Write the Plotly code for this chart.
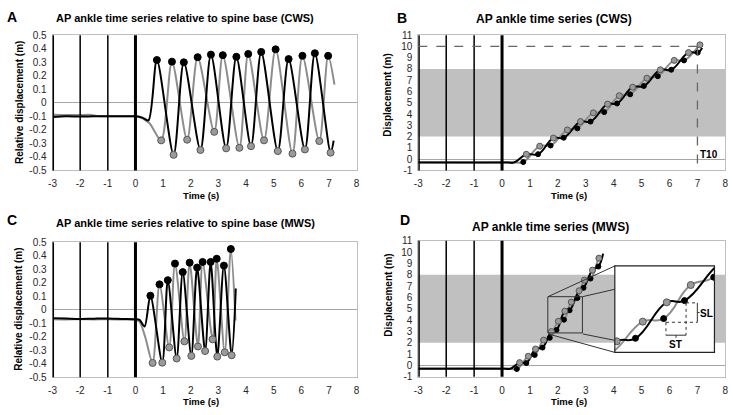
import plotly.graph_objects as go

W, H = 733, 415


def px(x):
    return x / W


def py(y):
    return 1 - y / H


FONT = "Liberation Sans, Arial, sans-serif"
BLACK = "#000000"
GRAY = "#8C8C8C"
DOT_GRAY = "#9A9A9A"
DOT_EDGE = "#555555"
BAND = "#C0C0C0"
FRAME = "#BFBFBF"
ZERO = "#A6A6A6"

# ---------------- tick labels ----------------
x_ticks = [-3, -2, -1, 0, 1, 2, 3, 4, 5, 6, 7, 8]
x_ticktext = ["-3", "-2", "-1", "0", "1", "2", "3", "4", "5", "6", "7", "8"]
rel_ticks = [0.5, 0.4, 0.3, 0.2, 0.1, 0, -0.1, -0.2, -0.3, -0.4, -0.5]
rel_ticktext = ["0.5", "0.4", "0.3", "0.2", "0.1", "0", "-0.1", "-0.2", "-0.3", "-0.4", "-0.5"]
disp_ticks = [11, 10, 9, 8, 7, 6, 5, 4, 3, 2, 1, 0, -1]
disp_ticktext = ["11", "10", "9", "8", "7", "6", "5", "4", "3", "2", "1", "0", "-1"]

event_times = [-3, -2, -1, 0]
band = [2, 8]
t10 = 7.0
t10_level = 10

# ---------------- A: CWS, relative to spine base ----------------
a_black_t = [-3, -2.5, -2, -1.5, -1, -0.5, 0, 0.25, 0.47, 0.775, 1.38, 1.75, 2.35, 2.73, 3.28,
             3.65, 4.18, 4.55, 5.15, 5.54, 6.13, 6.49, 7.06, 7.17]
a_black_y = [-0.105, -0.1, -0.102, -0.1, -0.1, -0.1, -0.1, -0.11, -0.13, 0.316, -0.385, 0.299,
             -0.349, 0.356, -0.337, 0.34, -0.321, 0.376, -0.357, 0.323, -0.345, 0.366, -0.369, -0.28]
a_gray_t = [-3, -2.5, -2, -1.6, -1.3, -1, -0.5, 0, 0.15, 0.5, 0.93, 1.32, 1.87, 2.25, 2.85, 3.16,
            3.76, 4.08, 4.65, 5.07, 5.68, 6.04, 6.65, 6.97, 7.2]
a_gray_y = [-0.088, -0.09, -0.09, -0.09, -0.1, -0.1, -0.1, -0.1, -0.105, -0.15, -0.278, 0.304,
            -0.273, 0.337, -0.215, 0.352, -0.333, 0.361, -0.278, 0.395, -0.376, 0.347, -0.283,
            0.347, 0.134]
a_peak_t = [0.775, 1.32, 1.75, 2.25, 2.73, 3.16, 3.65, 4.08, 4.55, 5.07, 5.54, 6.04, 6.49, 6.97]
a_peak_y = [0.316, 0.304, 0.299, 0.337, 0.356, 0.352, 0.34, 0.361, 0.376, 0.395, 0.323, 0.347,
            0.366, 0.347]
a_trough_t = [0.93, 1.38, 1.87, 2.35, 2.85, 3.28, 3.76, 4.18, 4.65, 5.15, 5.68, 6.13, 6.65, 7.06]
a_trough_y = [-0.278, -0.385, -0.273, -0.349, -0.215, -0.337, -0.333, -0.321, -0.278, -0.357,
              -0.376, -0.345, -0.283, -0.369]

# ---------------- B: CWS, displacement ----------------
b_black_line_t = [-3, 0.2, 0.43, 0.87, 1.29, 1.84, 2.21, 2.81, 3.17, 3.78, 4.12, 4.68, 5.08,
                  5.67, 6.06, 6.68, 7.01, 7.17]
b_black_line_y = [-0.3, -0.3, -0.3, 0.43, 0.44, 1.87, 1.90, 3.33, 3.33, 4.88, 4.94, 6.38, 6.49,
                  7.93, 7.93, 9.45, 9.45, 9.85]
b_gray_line_t = [-3, 0.4, 0.76, 1.35, 1.74, 2.34, 2.70, 3.27, 3.66, 4.20, 4.59, 5.19, 5.58,
                 6.17, 6.52, 7.09, 7.13]
b_gray_line_y = [-0.28, -0.28, -0.26, 1.15, 1.21, 2.59, 2.73, 4.11, 4.17, 5.63, 5.75, 7.18, 7.36,
                 8.76, 8.76, 10.14, 10.2]
b_gdot_t = [0.87, 1.35, 1.84, 2.34, 2.81, 3.27, 3.78, 4.20, 4.68, 5.19, 5.67, 6.17, 6.68, 7.09]
b_gdot_y = [0.43, 1.15, 1.87, 2.59, 3.33, 4.11, 4.88, 5.63, 6.38, 7.18, 7.93, 8.76, 9.45, 10.14]
b_bdot_t = [0.76, 1.29, 1.74, 2.21, 2.70, 3.17, 3.66, 4.12, 4.59, 5.08, 5.58, 6.06, 6.52, 7.01]
b_bdot_y = [-0.26, 0.44, 1.21, 1.90, 2.73, 3.33, 4.17, 4.94, 5.75, 6.49, 7.36, 7.93, 8.76, 9.45]

# ---------------- C: MWS, relative to spine base ----------------
c_black_t = [-3, -2.5, -2, -1.5, -1, -0.5, 0, 0.15, 0.33, 0.54, 0.97, 1.17, 1.49, 1.71, 2.02,
             2.23, 2.52, 2.72, 2.96, 3.20, 3.48, 3.63]
c_black_y = [-0.062, -0.065, -0.068, -0.066, -0.065, -0.068, -0.07, -0.075, -0.125, 0.104,
             -0.392, 0.219, -0.361, 0.279, -0.342, 0.313, -0.306, 0.354, -0.347, 0.327, -0.337,
             0.157]
c_gray_t = [-3, -2.5, -2, -1.5, -1, -0.5, 0, 0.15, 0.35, 0.62, 0.87, 1.22, 1.43, 1.77, 1.96,
            2.26, 2.43, 2.79, 2.94, 3.23, 3.45, 3.62]
c_gray_y = [-0.07, -0.072, -0.07, -0.072, -0.07, -0.072, -0.075, -0.09, -0.2, -0.394, 0.188,
            -0.279, 0.342, -0.234, 0.349, -0.272, 0.354, -0.219, 0.378, -0.315, 0.45, -0.08]
c_peak_t = [0.54, 0.87, 1.17, 1.43, 1.71, 1.96, 2.23, 2.43, 2.72, 2.94, 3.20, 3.45]
c_peak_y = [0.104, 0.188, 0.219, 0.342, 0.279, 0.349, 0.313, 0.354, 0.354, 0.378, 0.327, 0.45]
c_trough_t = [0.62, 0.97, 1.22, 1.49, 1.77, 2.02, 2.26, 2.52, 2.79, 2.96, 3.23, 3.48]
c_trough_y = [-0.394, -0.392, -0.279, -0.361, -0.234, -0.342, -0.272, -0.306, -0.219, -0.347,
              -0.315, -0.337]

# ---------------- D: MWS, displacement ----------------
d_black_line_t = [-3, 0.1, 0.3, 0.63, 0.87, 1.2, 1.45, 1.77, 1.95, 2.25, 2.42, 2.76, 2.92,
                  3.24, 3.45, 3.62]
d_black_line_y = [-0.3, -0.3, -0.3, 0.24, 0.2, 1.44, 1.57, 2.98, 3.12, 4.78, 4.86, 6.58, 6.84,
                  8.4, 8.72, 9.86]
d_gray_line_t = [-3, 0.25, 0.53, 0.94, 1.17, 1.49, 1.71, 2.02, 2.22, 2.48, 2.70, 2.95, 3.17,
                 3.47, 3.53]
d_gray_line_y = [-0.28, -0.28, -0.32, 0.8, 0.92, 2.23, 2.43, 3.89, 4.03, 5.58, 5.94, 7.52, 7.66,
                 9.46, 9.6]
d_gdot_t = [0.63, 0.94, 1.2, 1.49, 1.77, 2.02, 2.25, 2.48, 2.76, 2.95, 3.24, 3.47]
d_gdot_y = [0.24, 0.8, 1.44, 2.23, 2.98, 3.89, 4.78, 5.58, 6.58, 7.52, 8.4, 9.46]
d_bdot_t = [0.53, 0.87, 1.17, 1.45, 1.71, 1.95, 2.22, 2.42, 2.70, 2.92, 3.17, 3.45]
d_bdot_y = [-0.32, 0.2, 0.92, 1.57, 2.43, 3.12, 4.03, 4.86, 5.94, 6.84, 7.66, 8.72]

# zoom window of panel D (data units) and inset ranges
zoom_x = [1.64, 2.88]
zoom_y = [2.86, 6.06]
inset_x = [1.752, 2.707]
inset_y = [2.47, 6.46]

fig = go.Figure()


def line(t, y, color, ax, smooth):
    fig.add_trace(go.Scatter(x=t, y=y, mode="lines", xaxis="x" + ax, yaxis="y" + ax,
                             line=dict(color=color, width=2, shape="spline", smoothing=smooth),
                             hoverinfo="skip", showlegend=False))


def dots(t, y, fill, edge, ax, size):
    fig.add_trace(go.Scatter(x=t, y=y, mode="markers", xaxis="x" + ax, yaxis="y" + ax,
                             marker=dict(color=fill, size=size, line=dict(color=edge, width=1)),
                             hoverinfo="skip", showlegend=False))


# A
line(a_gray_t, a_gray_y, GRAY, "", 0.8)
line(a_black_t, a_black_y, BLACK, "", 0.8)
dots(a_peak_t, a_peak_y, BLACK, BLACK, "", 7)
dots(a_trough_t, a_trough_y, DOT_GRAY, DOT_EDGE, "", 7)
# B
line(b_gray_line_t, b_gray_line_y, GRAY, "2", 1.3)
line(b_black_line_t, b_black_line_y, BLACK, "2", 1.3)
dots(b_bdot_t, b_bdot_y, BLACK, BLACK, "2", 5)
dots(b_gdot_t, b_gdot_y, DOT_GRAY, DOT_EDGE, "2", 6)
# C
line(c_gray_t, c_gray_y, GRAY, "3", 0.8)
line(c_black_t, c_black_y, BLACK, "3", 0.8)
dots(c_peak_t, c_peak_y, BLACK, BLACK, "3", 7)
dots(c_trough_t, c_trough_y, DOT_GRAY, DOT_EDGE, "3", 7)
# D
line(d_gray_line_t, d_gray_line_y, GRAY, "4", 1.3)
line(d_black_line_t, d_black_line_y, BLACK, "4", 1.3)
dots(d_bdot_t, d_bdot_y, BLACK, BLACK, "4", 5)
dots(d_gdot_t, d_gdot_y, DOT_GRAY, DOT_EDGE, "4", 6)
# D inset (same data, zoomed)
line(d_gray_line_t, d_gray_line_y, GRAY, "5", 1.3)
line(d_black_line_t, d_black_line_y, BLACK, "5", 1.3)
dots(d_bdot_t, d_bdot_y, BLACK, BLACK, "5", 6)
dots(d_gdot_t, d_gdot_y, DOT_GRAY, DOT_EDGE, "5", 7)

tickfont = dict(family=FONT, size=10, color="#262626")


def xaxis(l, r, anchor):
    return dict(domain=[px(l), px(r)], anchor=anchor, range=[-3, 8], tickvals=x_ticks,
                ticktext=x_ticktext, showgrid=False, zeroline=False, showline=True,
                linecolor=FRAME, linewidth=1, mirror=True, ticks="outside", ticklen=4,
                tickcolor="rgba(0,0,0,0)", tickfont=tickfont, fixedrange=True)


def yaxis(top, bottom, anchor, rng, tv, tt):
    return dict(domain=[py(bottom), py(top)], anchor=anchor, range=rng, tickvals=tv,
                ticktext=tt, showgrid=False, zeroline=True, zerolinecolor=ZERO,
                zerolinewidth=1, showline=True, linecolor=FRAME, linewidth=1, mirror=True,
                ticks="outside", ticklen=3, tickcolor="rgba(0,0,0,0)", tickfont=tickfont,
                fixedrange=True)


layout = dict(
    width=W, height=H, margin=dict(l=0, r=0, t=0, b=0),
    paper_bgcolor="white", plot_bgcolor="white", showlegend=False,
    xaxis=xaxis(49, 356, "y"),
    yaxis=yaxis(30, 169.3, "x", [-0.5, 0.5], rel_ticks, rel_ticktext),
    xaxis2=xaxis(418.3, 728.3, "y2"),
    yaxis2=yaxis(30, 169.3, "x2", [-1, 11], disp_ticks, disp_ticktext),
    xaxis3=xaxis(49, 356, "y3"),
    yaxis3=yaxis(243.3, 382.3, "x3", [-0.5, 0.5], rel_ticks, rel_ticktext),
    xaxis4=xaxis(418.3, 728.3, "y4"),
    yaxis4=yaxis(241.7, 381.7, "x4", [-1, 11], disp_ticks, disp_ticktext),
    xaxis5=dict(domain=[px(616.7), px(717.3)], anchor="y5", range=inset_x, visible=False,
                fixedrange=True),
    yaxis5=dict(domain=[py(356.7), py(267.7)], anchor="x5", range=inset_y, visible=False,
                fixedrange=True),
)

shapes = []
# grey band in B and D
for ax in ["2", "4"]:
    shapes.append(dict(type="rect", xref="x%s domain" % ax, yref="y" + ax, x0=0, x1=1,
                       y0=band[0], y1=band[1], fillcolor=BAND, line=dict(width=0),
                       layer="below"))
# event lines
ev_width = {-3: 3, -2: 1.5, -1: 1.5, 0: 3}
for ax in ["", "2", "3", "4"]:
    for t in event_times:
        shapes.append(dict(type="line", xref="x" + ax, yref="y%s domain" % ax, x0=t, x1=t,
                           y0=0, y1=1, line=dict(color=BLACK, width=ev_width[t])))
# T10 dashed guides (B)
shapes.append(dict(type="line", xref="x2", yref="y2", x0=-3, x1=t10, y0=t10_level,
                   y1=t10_level, line=dict(color="#666666", width=1.3, dash="dash")))
shapes.append(dict(type="line", xref="x2", yref="y2", x0=t10, x1=t10, y0=t10_level, y1=-1,
                   line=dict(color="#666666", width=1.3, dash="dash")))
# inset background & frame
shapes.append(dict(type="rect", xref="x5 domain", yref="y5 domain", x0=0, x1=1, y0=0, y1=1,
                   fillcolor="white", line=dict(width=0), layer="below"))
shapes.append(dict(type="rect", xref="x5 domain", yref="y5 domain", x0=0, x1=1, y0=0, y1=1,
                   line=dict(color="#222222", width=1.2)))
# zoom window in D
shapes.append(dict(type="rect", xref="x4", yref="y4", x0=zoom_x[0], x1=zoom_x[1],
                   y0=zoom_y[0], y1=zoom_y[1], line=dict(color="#333333", width=1)))
# connecting lines (pixel positions)
for (x0, y0, x1, y1) in [(549.3, 299.3, 616.7, 267.7), (584.3, 299.3, 616.7, 291.7),
                         (584.3, 337.7, 616.7, 344.3), (549.3, 337.7, 616.7, 356.7)]:
    shapes.append(dict(type="line", xref="paper", yref="paper", x0=px(x0), y0=py(y0),
                       x1=px(x1), y1=py(y1), line=dict(color="#333333", width=1)))
# SL / ST annotation in inset
dash = dict(color="#333333", width=1, dash="dot")
solid = dict(color="#333333", width=1)
for (x0, y0, x1, y1, st) in [
    (2.242, 3.86, 2.543, 3.86, dash), (2.435, 4.756, 2.543, 4.756, dash),
    (2.242, 3.86, 2.242, 3.264, dash), (2.435, 4.756, 2.435, 3.264, dash),
    (2.543, 3.86, 2.543, 4.756, solid), (2.543, 4.308, 2.565, 4.308, solid),
    (2.242, 3.264, 2.435, 3.264, solid), (2.3385, 3.264, 2.3385, 3.142, solid)]:
    shapes.append(dict(type="line", xref="x5", yref="y5", x0=x0, y0=y0, x1=x1, y1=y1,
                       line=st))
layout["shapes"] = shapes

ann = []


def text(x, y, s, size, bold=True, angle=0, xanchor="center"):
    ann.append(dict(x=px(x), y=py(y), xref="paper", yref="paper", text=("<b>%s</b>" % s) if bold else s,
                    showarrow=False, textangle=angle, xanchor=xanchor, yanchor="middle",
                    font=dict(family=FONT, size=size, color="#000000")))


text(8, 11, "A", 14)
text(402, 12, "B", 14)
text(8, 220, "C", 14)
text(405, 220, "D", 14)
text(183, 12, "AP ankle time series relative to spine base (CWS)", 11)
text(555, 13, "AP ankle time series (CWS)", 12)
text(183, 223, "AP ankle time series relative to spine base (MWS)", 11)
text(552, 228, "AP ankle time series (MWS)", 12)
text(199, 195, "Time (s)", 9.5)
text(570, 195, "Time (s)", 9.5)
text(199, 407, "Time (s)", 9.5)
text(570, 407, "Time (s)", 9.5)
text(15, 99, "Relative displacement (m)", 10, angle=-90)
text(15, 312, "Relative displacement (m)", 10, angle=-90)
text(387, 92, "Displacement (m)", 10, angle=-90)
text(388, 298, "Displacement (m)", 10, angle=-90)
text(712, 153, "T10", 10)
text(709, 317, "SL", 10)
text(678, 349, "ST", 10)
layout["annotations"] = ann

fig.update_layout(**layout)
fig.write_html("out.html", config={"displayModeBar": False},
               post_script="document.body.style.margin='0';document.body.style.overflow='hidden';")
